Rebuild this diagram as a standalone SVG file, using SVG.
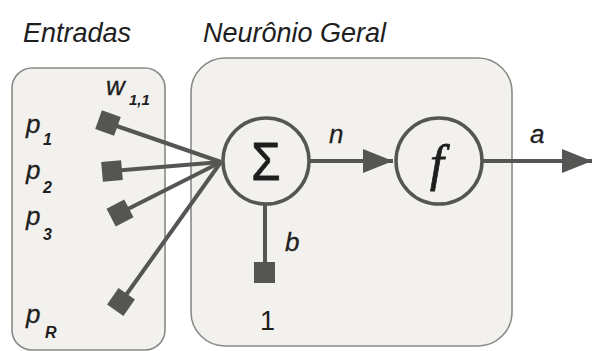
<svg xmlns="http://www.w3.org/2000/svg" width="592" height="351" viewBox="0 0 592 351">
  <defs>
    <style>
      .panel { fill: #f3f1ee; stroke: #8a8a88; stroke-width: 1.6; }
      .wire { stroke: #555553; stroke-width: 4; fill: none; }
      .node { fill: #f3f1ee; stroke: #555553; stroke-width: 3.5; }
      .pad { fill: #555553; }
      .title { font-family: "Liberation Sans", Arial, sans-serif; font-style: italic; font-size: 27px; fill: #1e1e1e; }
      .lbl { font-family: "Liberation Sans", Arial, sans-serif; font-style: italic; font-size: 26px; fill: #1e1e1e; stroke: #1e1e1e; stroke-width: 0.3; }
      .sub { font-family: "Liberation Sans", Arial, sans-serif; font-style: italic; font-weight: bold; font-size: 16px; fill: #1e1e1e; }
      .subw { font-family: "Liberation Sans", Arial, sans-serif; font-style: italic; font-weight: bold; font-size: 15px; fill: #1e1e1e; }
      .plain { font-family: "Liberation Sans", Arial, sans-serif; font-size: 27px; fill: #1e1e1e; }
      .glyph { fill: #1e1e1e; stroke: #1e1e1e; stroke-width: 0.8; }
    </style>
    <marker id="arrow" viewBox="0 0 30 24" refX="30" refY="12" markerWidth="30" markerHeight="24" markerUnits="userSpaceOnUse" orient="auto">
      <path d="M0,0 L30,12 L0,24 Z" fill="#555553"/>
    </marker>
  </defs>

  <rect width="592" height="351" fill="#ffffff"/>

  <!-- titles -->
  <text class="title" x="23" y="42">Entradas</text>
  <text class="title" x="203" y="42">Neurônio Geral</text>

  <!-- panels -->
  <g id="inputs-panel">
    <rect class="panel" x="12" y="68" width="153" height="282" rx="20"/>
  </g>
  <g id="neuron-panel">
    <rect class="panel" x="191" y="58" width="321" height="288" rx="34"/>
  </g>

  <!-- connectors -->
  <g id="connectors">
    <line class="wire" x1="108" y1="123" x2="221" y2="162"/>
    <line class="wire" x1="112" y1="171" x2="221" y2="162"/>
    <line class="wire" x1="120" y1="213" x2="221" y2="162"/>
    <line class="wire" x1="121" y1="302" x2="221" y2="162"/>
    <line class="wire" x1="265" y1="205" x2="265" y2="272"/>
    <line class="wire" x1="310" y1="161" x2="393" y2="161" marker-end="url(#arrow)"/>
    <line class="wire" x1="483" y1="161" x2="592" y2="161" marker-end="url(#arrow)"/>
  </g>

  <!-- input weights -->
  <g id="input-p1">
    <rect class="pad" x="-10" y="-10" width="20" height="20" transform="translate(108 123) rotate(19.5)"/>
    <text class="lbl" x="26" y="133">p</text>
    <text class="sub" x="43" y="145">1</text>
  </g>
  <g id="weight-w11">
    <text class="lbl" x="106" y="95">w</text>
    <text class="subw" x="129" y="105">1,1</text>
  </g>
  <g id="input-p2">
    <rect class="pad" x="-10" y="-10" width="20" height="20" transform="translate(112 171) rotate(-5)"/>
    <text class="lbl" x="26" y="179">p</text>
    <text class="sub" x="43" y="193">2</text>
  </g>
  <g id="input-p3">
    <rect class="pad" x="-10" y="-10" width="20" height="20" transform="translate(120 213) rotate(-27.5)"/>
    <text class="lbl" x="26" y="225">p</text>
    <text class="sub" x="43" y="240">3</text>
  </g>
  <g id="input-pR">
    <rect class="pad" x="-10" y="-10" width="20" height="20" transform="translate(121 302) rotate(-55)"/>
    <text class="lbl" x="26" y="323">p</text>
    <text class="sub" x="45" y="338">R</text>
  </g>

  <!-- summation -->
  <g id="sum">
    <circle class="node" cx="266" cy="161" r="43"/>
    <text class="glyph" x="266" y="180" text-anchor="middle" font-family="'Liberation Sans', Arial, sans-serif" font-size="54" transform="translate(266 0) scale(0.88 1) translate(-266 0)">Σ</text>
  </g>

  <!-- bias -->
  <g id="bias">
    <rect class="pad" x="254" y="262" width="21" height="21"/>
    <text class="lbl" x="285" y="251">b</text>
    <text class="plain" x="260" y="330">1</text>
  </g>

  <text class="lbl" x="329" y="143">n</text>

  <!-- transfer function -->
  <g id="transfer">
    <circle class="node" cx="439" cy="161" r="43"/>
    <text class="glyph" x="437" y="180" text-anchor="middle" font-family="'Liberation Serif', serif" font-style="italic" font-size="50">f</text>
  </g>

  <text class="lbl" x="530" y="143">a</text>
</svg>
